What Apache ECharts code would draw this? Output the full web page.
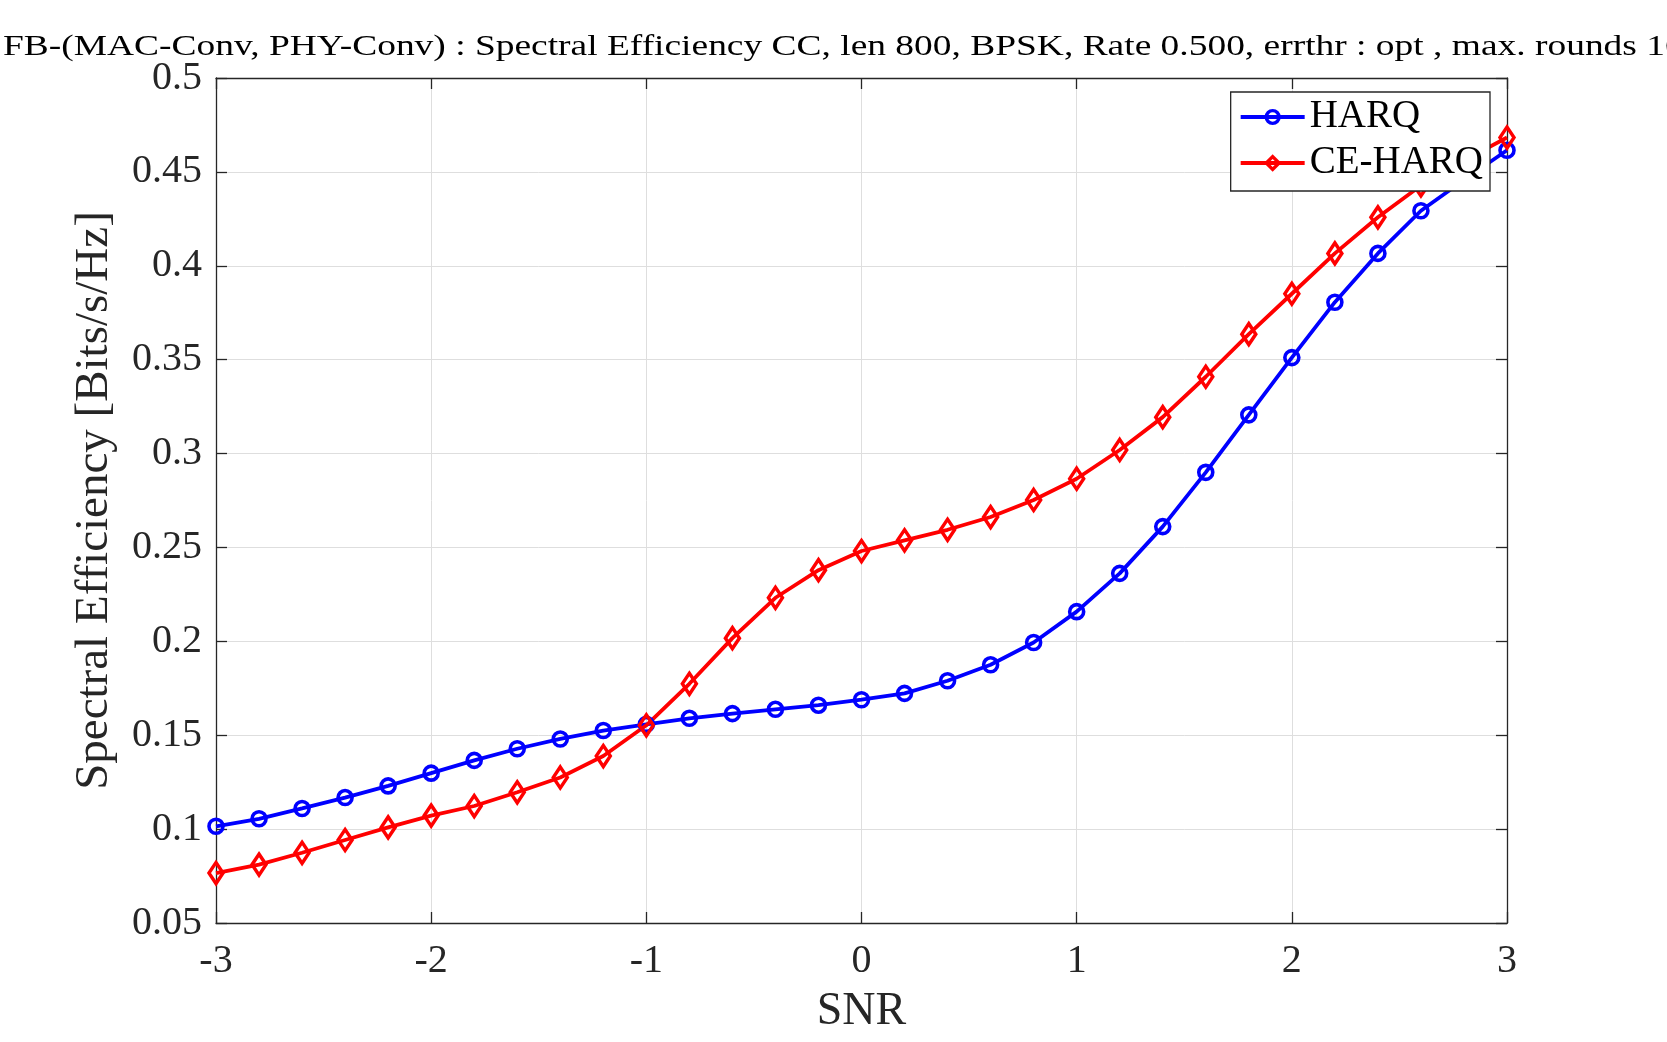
<!DOCTYPE html>
<html><head><meta charset="utf-8">
<script src="https://cdn.jsdelivr.net/npm/echarts@6/dist/echarts.min.js"></script>
<style>html,body{margin:0;padding:0;background:#fff}#c{width:1667px;height:1042px}</style>
</head><body><div id="c"></div>
<script>
const titleText = 'FB-(MAC-Conv, PHY-Conv) : Spectral Efficiency CC, len 800, BPSK, Rate 0.500, errthr : opt , max. rounds 10';
const xName = 'SNR';
const yName = 'Spectral Efficiency [Bits/s/Hz]';
const seriesNames = ['HARQ', 'CE-HARQ'];
const snr = [-3, -2.8, -2.6, -2.4, -2.2, -2, -1.8, -1.6, -1.4, -1.2, -1, -0.8, -0.6, -0.4, -0.2, 0,
  0.2, 0.4, 0.6, 0.8, 1, 1.2, 1.4, 1.6, 1.8, 2, 2.2, 2.4, 2.6, 2.8, 3];
const harq = [0.1015, 0.1055, 0.1110, 0.1168, 0.1230, 0.1298, 0.1366, 0.1428, 0.1480, 0.1525, 0.1558,
  0.1590, 0.1615, 0.1638, 0.1660, 0.1689, 0.1723, 0.1790, 0.1875, 0.1994, 0.2158, 0.2362, 0.2611,
  0.2900, 0.3206, 0.3511, 0.3806, 0.4066, 0.4293, 0.4457, 0.4615];
const ceHarq = [0.0766, 0.0811, 0.0874, 0.0942, 0.1009, 0.1072, 0.1123, 0.1196, 0.1275, 0.1389, 0.1553,
  0.1774, 0.2017, 0.2232, 0.2379, 0.2481, 0.2538, 0.2594, 0.2662, 0.2753, 0.2866, 0.3019, 0.3194,
  0.3409, 0.3636, 0.3851, 0.4066, 0.4258, 0.4428, 0.4560, 0.4683];
const xTickLabels = ['-3', '-2', '-1', '0', '1', '2', '3'];
const yTickLabels = ['0.05', '0.1', '0.15', '0.2', '0.25', '0.3', '0.35', '0.4', '0.45', '0.5'];

const FONT = '"Liberation Serif", "Times New Roman", serif';
const AX = '#262626';

// fit title width (as in reference it overflows the right edge)
const TITLE_PX = 29;
const cv = document.createElement('canvas').getContext('2d');
cv.font = TITLE_PX + 'px "Liberation Serif"';
const visiblePart = titleText.slice(0, titleText.length - 1);
const wMeasured = cv.measureText(visiblePart).width;
const titleScale = 1662 / wMeasured;

const chart = echarts.init(document.getElementById('c'), null, {renderer: 'canvas'});
const xLab = (v) => { const i = Math.round(v + 3); return xTickLabels[i] !== undefined ? xTickLabels[i] : ''; };
const yLab = (v) => { const i = Math.round((v - 0.05) / 0.05); return yTickLabels[i] !== undefined ? yTickLabels[i] : ''; };

const baseAxis = {
  axisLine: {show: true, onZero: false, lineStyle: {color: AX, width: 1.3}},
  axisTick: {show: true, inside: true, length: 11, lineStyle: {color: AX, width: 1.3}},
};

chart.setOption({
  animation: false,
  backgroundColor: '#fff',
  graphic: [{
    type: 'text', x: 3, y: 47, scaleX: titleScale, z: 10,
    style: {text: titleText, font: TITLE_PX + 'px "Liberation Serif"', fill: '#000', verticalAlign: 'middle', align: 'left'}
  }],
  grid: {left: 216, right: 160, top: 78, bottom: 119, containLabel: false},
  legend: {
    orient: 'vertical', right: 177, top: 92,
    data: seriesNames,
    backgroundColor: '#fff', borderColor: AX, borderWidth: 1.3,
    padding: [5, 7, 8, 8], itemGap: 6, itemWidth: 64, itemHeight: 16,
    lineStyle: {width: 4},
    itemStyle: {borderWidth: 3.4},
    textStyle: {fontFamily: FONT, fontSize: 39, color: '#000', lineHeight: 40},
    z: 10
  },
  xAxis: [
    Object.assign({}, baseAxis, {
      type: 'value', min: -3, max: 3, interval: 1, position: 'bottom',
      name: xName, nameLocation: 'middle', nameGap: 66,
      nameTextStyle: {fontFamily: FONT, fontSize: 46, color: AX},
      axisLabel: {formatter: xLab, fontFamily: FONT, fontSize: 40, color: AX, margin: 18},
      splitLine: {show: true, lineStyle: {color: '#dedede', width: 1}}
    }),
    Object.assign({}, baseAxis, {
      type: 'value', min: -3, max: 3, interval: 1, position: 'top',
      axisLabel: {show: false}, splitLine: {show: false}
    })
  ],
  yAxis: [
    Object.assign({}, baseAxis, {
      type: 'value', min: 0.05, max: 0.5, interval: 0.05, position: 'left',
      name: yName, nameLocation: 'middle', nameGap: 98,
      nameTextStyle: {fontFamily: FONT, fontSize: 47, color: AX},
      axisLabel: {formatter: yLab, fontFamily: FONT, fontSize: 40, color: AX, margin: 14},
      splitLine: {show: true, lineStyle: {color: '#dedede', width: 1}}
    }),
    Object.assign({}, baseAxis, {
      type: 'value', min: 0.05, max: 0.5, interval: 0.05, position: 'right',
      axisLabel: {show: false}, splitLine: {show: false}
    })
  ],
  series: [
    {
      name: seriesNames[0], type: 'line', xAxisIndex: 0, yAxisIndex: 0, clip: false,
      data: snr.map((x, i) => [x, harq[i]]),
      symbol: 'circle', symbolSize: 14, showAllSymbol: true,
      lineStyle: {color: '#0000ff', width: 3.8},
      itemStyle: {color: 'rgba(0,0,0,0)', borderColor: '#0000ff', borderWidth: 3.6}
    },
    {
      name: seriesNames[1], type: 'line', xAxisIndex: 0, yAxisIndex: 0, clip: false,
      data: snr.map((x, i) => [x, ceHarq[i]]),
      symbol: 'diamond', symbolSize: [14, 21], showAllSymbol: true,
      lineStyle: {color: '#ff0000', width: 3.8},
      itemStyle: {color: 'rgba(0,0,0,0)', borderColor: '#ff0000', borderWidth: 3.6}
    }
  ]
});
</script></body></html>
